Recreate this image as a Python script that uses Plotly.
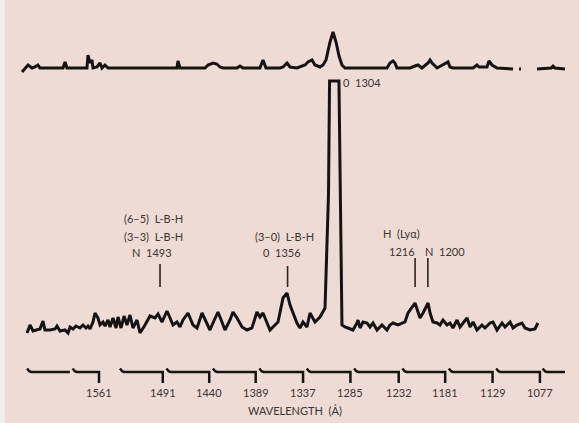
import plotly.graph_objects as go

# ---------------- data ----------------
# Lower (main) spectrum: wavelength in Angstrom, relative intensity
main_wl = [1640.0, 1636.7, 1633.4, 1628.0, 1625.8, 1622.5, 1620.3, 1614.8, 1609.3, 1607.1,
           1603.8, 1598.3, 1595.0, 1592.8, 1589.5, 1586.3, 1581.9, 1578.6, 1575.3, 1573.1,
           1570.9, 1567.6, 1565.4, 1562.1, 1559.9, 1556.6, 1554.4, 1551.1, 1548.9, 1545.6,
           1542.3, 1540.1, 1536.8, 1533.5, 1530.3, 1527.0, 1523.7, 1519.3, 1516.0, 1510.5,
           1505.0, 1499.5, 1496.2, 1491.8, 1486.4, 1483.0, 1479.8, 1475.4, 1472.1, 1468.8,
           1463.3, 1457.8, 1453.4, 1447.9, 1444.6, 1439.2, 1435.9, 1430.4, 1426.0, 1422.7,
           1417.2, 1413.9, 1409.5, 1404.0, 1398.5, 1393.1, 1387.6, 1384.3, 1381.0, 1376.6,
           1373.3, 1367.8, 1364.5, 1359.0, 1354.6, 1351.3, 1343.7, 1340.4, 1337.1, 1332.7,
           1329.4, 1323.9, 1318.4, 1312.9, 1309.1, 1307.9, 1297.6, 1294.3, 1291.0, 1287.7,
           1282.2, 1277.8, 1276.7, 1274.5, 1271.2, 1266.8, 1263.5, 1260.2, 1255.8, 1250.4,
           1244.9, 1241.6, 1238.3, 1232.8, 1228.4, 1225.1, 1221.8, 1214.1, 1208.6, 1205.3,
           1199.8, 1197.6, 1194.4, 1189.9, 1186.7, 1183.4, 1179.0, 1175.7, 1172.4, 1168.0,
           1164.7, 1161.4, 1157.0, 1153.7, 1150.4, 1146.1, 1140.6, 1137.3, 1131.8, 1128.5,
           1124.1, 1118.6, 1115.3, 1109.8, 1106.5, 1102.2, 1096.7, 1093.4, 1087.9, 1082.4,
           1079.2]
main_int = [2, 10, 4, 5, 6, 14, 5, 5, 6, 9,
            4, 5, 2, 8, 6, 9, 7, 10, 7, 9,
            6, 13, 22, 17, 10, 13, 9, 15, 8, 17,
            7, 18, 7, 19, 10, 20, 7, 15, 2, 10,
            19, 17, 21, 13, 24, 17, 10, 13, 8, 15,
            22, 10, 7, 22, 15, 5, 12, 23, 13, 5,
            15, 23, 17, 8, 5, 7, 23, 18, 22, 12,
            5, 10, 13, 37, 42, 30, 12, 7, 13, 8,
            22, 13, 18, 27, 140, 254, 254, 10, 8, 7,
            5, 12, 15, 7, 13, 12, 8, 12, 5, 10,
            5, 10, 12, 10, 12, 13, 22, 32, 17, 22,
            32, 22, 13, 12, 10, 15, 10, 12, 7, 15,
            8, 12, 17, 8, 13, 5, 10, 7, 12, 13,
            5, 12, 8, 13, 7, 10, 12, 7, 5, 6,
            12]

# Upper spectrum (reduced scale); None = no data
top_wl = [1645.5, 1642.2, 1638.9, 1634.5, 1631.3, 1628.0, 1625.8, 1600.5, 1598.3, 1596.1,
          1574.2, 1573.1, 1570.9, 1568.7, 1567.6, 1563.2, 1559.9, 1557.7, 1554.4, 1551.1,
          1501.7, 1475.4, 1474.3, 1472.1, 1444.6, 1441.3, 1435.9, 1431.6, 1428.2, 1424.9,
          1409.5, 1406.2, 1403.0, 1384.3, 1381.0, 1377.7, 1362.3, 1359.0, 1354.6, 1351.3,
          1343.7, 1334.9, 1331.6, 1327.2, 1323.9, 1318.4, 1315.1, 1311.8, 1307.4, 1304.1,
          1300.8, 1297.5, 1294.3, 1291.0, 1244.9, 1241.6, 1238.3, 1236.1, 1233.9, 1219.6,
          1214.1, 1210.9, 1206.5, 1199.8, 1197.6, 1195.4, 1189.9, 1179.0, 1177.9, 1175.7,
          1172.4, 1150.4, 1146.1, 1143.9, 1135.1, 1132.9, 1129.6, 1124.1, 1106.5, None,
          1099.9, 1097.8, None, 1080.2, 1064.8, 1062.6, 1060.4, 1049.5]
top_int = [-3, 1, 4, 1, 2, 4, 1, 1, 7, 1,
           1, 14, 6, 9, 1, 2, 6, 1, 4, 1,
           1, 1, 8, 1, 1, 4, 6, 5, 2, 1,
           1, 3, 1, 1, 9, 1, 1, 2, 6, 2,
           1, 4, 7, 9, 4, 2, 4, 9, 27, 37,
           27, 13, 4, 1, 1, 6, 8, 6, 1, 1,
           3, 4, 1, 6, 9, 6, 1, 6, 7, 2,
           1, 1, 4, 2, 2, 8, 4, 1, 0, None,
           0, 0, None, 0, 1, 3, 1, 0]

# Wavelength scale
tick_wl = [1561, 1491, 1440, 1389, 1337, 1285, 1232, 1181, 1129, 1077]
tick_labels = ["1561", "1491", "1440", "1389", "1337", "1285", "1232", "1181", "1129", "1077"]
# scale pieces: (start wavelength, end wavelength, ends with tick)
scale_segments = [(1640, 1593, False), (1590, 1561, True), (1538, 1491, True),
                  (1487, 1440, True), (1436, 1389, True), (1385, 1337, True),
                  (1333, 1285, True), (1281, 1232, True), (1228, 1181, True),
                  (1177, 1129, True), (1125, 1077, True), (1074, 1049.5, False)]

# Line identifications: marker wavelength
line_marks = [1494, 1354, 1214, 1200]

INK = "#161412"
TXT = "#3b3533"
BG = "#EDDBD4"
FONT = "Lato"

fig = go.Figure()

fig.add_trace(go.Scatter(x=main_wl, y=main_int, mode="lines",
                         line=dict(color=INK, width=3), yaxis="y", hoverinfo="skip"))
fig.add_trace(go.Scatter(x=top_wl, y=top_int, mode="lines", connectgaps=False,
                         line=dict(color=INK, width=3), yaxis="y2", hoverinfo="skip"))

# scale bar
sx, sy = [], []
for s, e, tick in scale_segments:
    sx += [s, s - 1.0, s - 2.5, s - 4.5, e]
    sy += [3.5, 2.0, 0.8, 0.0, 0.0]
    if tick:
        sx.append(e)
        sy.append(-11)
    sx.append(None)
    sy.append(None)
fig.add_trace(go.Scatter(x=sx, y=sy, mode="lines", connectgaps=False,
                         line=dict(color=INK, width=2.5), yaxis="y3", hoverinfo="skip"))

# tick labels
for t, lab in zip(tick_wl, tick_labels):
    fig.add_annotation(x=t, y=1 - 392 / 423, xref="x", yref="paper", text=lab,
                       xanchor="center", yanchor="middle",
                       showarrow=False, font=dict(family=FONT, size=11, color=TXT))

fig.add_annotation(x=295 / 579, y=1 - 410 / 423, xref="paper", yref="paper",
                   text="WAVELENGTH  (Å)", showarrow=False,
                   xanchor="center", yanchor="middle",
                   font=dict(family=FONT, size=11, color=TXT))

# line marker strokes (main axis units)
mark_ranges = [(48, 71), (48, 69), (48, 77), (48, 77)]
for wl, (y0, y1) in zip(line_marks, mark_ranges):
    fig.add_shape(type="line", x0=wl, x1=wl, y0=y0, y1=y1, xref="x", yref="y",
                  line=dict(color="#2a2422", width=1.6))

labels = [
    ("(6–5)  L-B-H", 153, 218),
    ("(3–3)  L-B-H", 153, 236),
    ("N  1493", 152, 252),
    ("(3–0)  L-B-H", 284, 236),
    ("0  1356", 282, 252),
    ("H  (Lyα)", 401, 233),
    ("1216", 402, 251),
    ("N  1200", 445, 251),
    ("0  1304", 362, 83),
]
for txt, px, py in labels:
    fig.add_annotation(x=px / 579, y=1 - py / 423, xref="paper", yref="paper", text=txt,
                       xanchor="center", yanchor="middle",
                       showarrow=False, font=dict(family=FONT, size=11, color=TXT))

# light strip at left page edge
fig.add_shape(type="rect", x0=0, x1=5 / 579, y0=0, y1=1, xref="paper", yref="paper",
              fillcolor="#F4ECE8", line=dict(width=0), layer="below")

hidden = dict(visible=False, showgrid=False, zeroline=False, fixedrange=True)
fig.update_layout(
    width=579, height=423,
    margin=dict(l=0, r=0, t=0, b=0),
    paper_bgcolor=BG, plot_bgcolor=BG,
    showlegend=False,
    xaxis=dict(range=[1669.67, 1034.1], domain=[0, 1], **hidden),
    yaxis=dict(range=[-88, 335], domain=[0, 1], **hidden),
    yaxis2=dict(range=[-354, 69], overlaying="y", **hidden),
    yaxis3=dict(range=[-51, 372], overlaying="y", **hidden),
)

fig.write_html("out.html", config={"displayModeBar": False},
               post_script="document.body.style.margin='0';document.body.style.overflow='hidden';")
